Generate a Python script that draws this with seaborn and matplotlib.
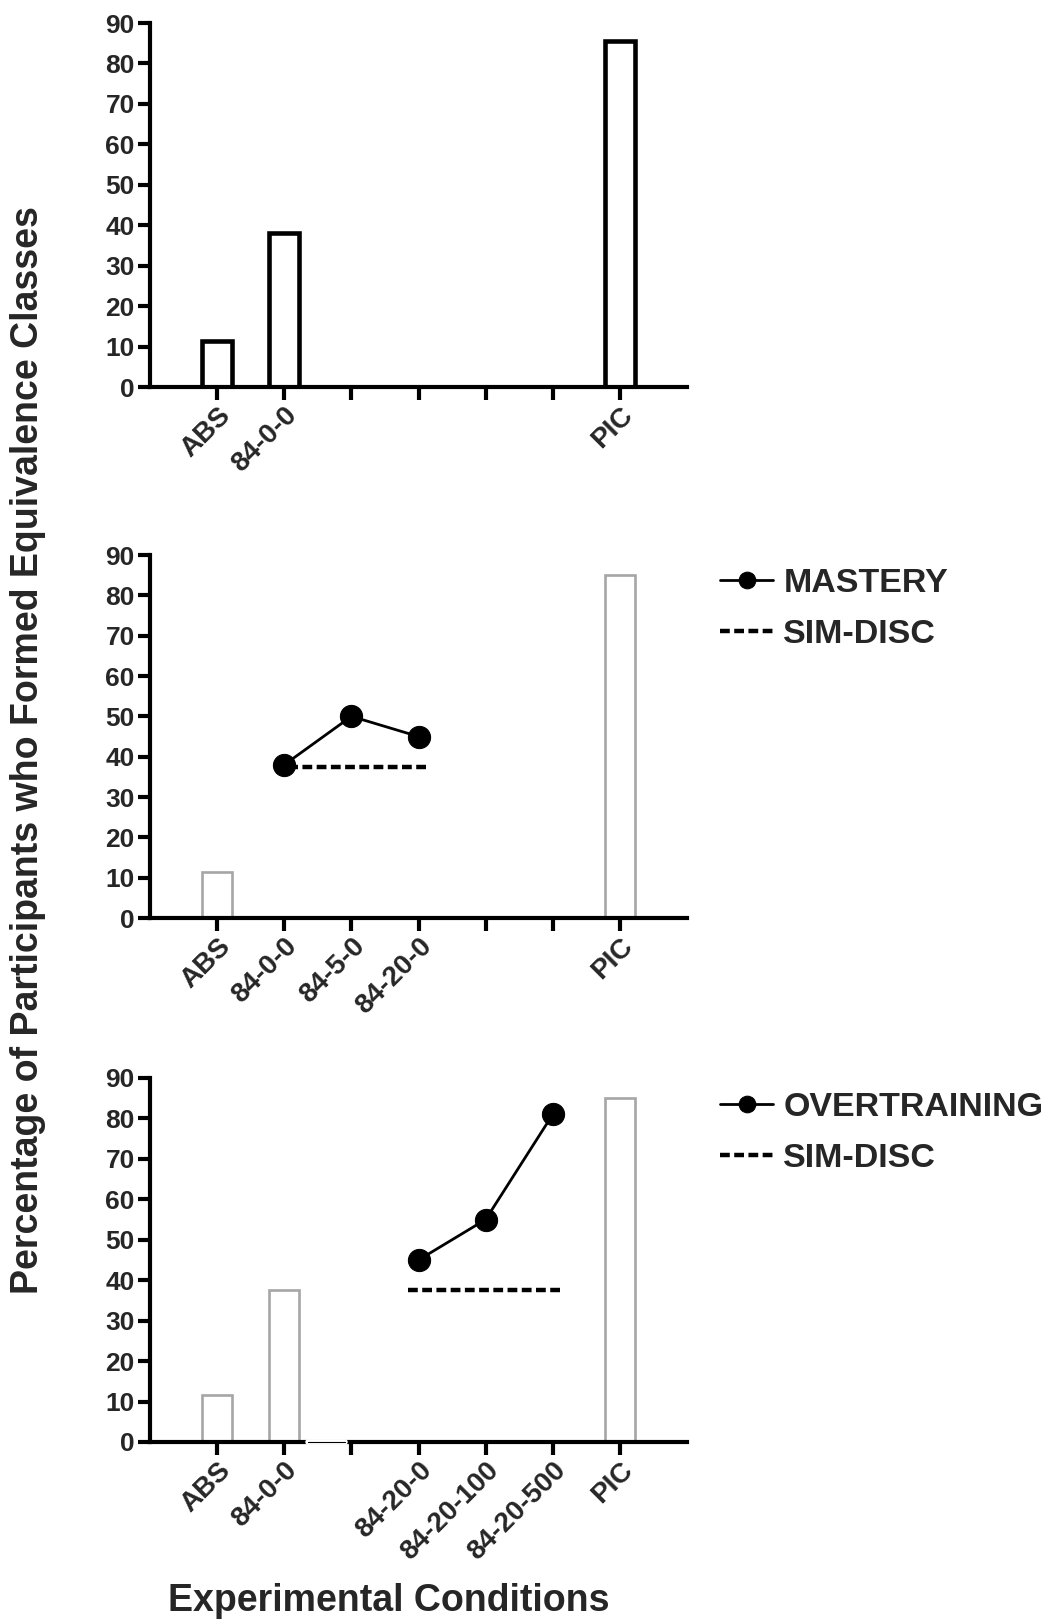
import numpy as np
import pandas as pd
import seaborn as sns
import matplotlib.pyplot as plt

# x slots shared by the three panels (tick positions 0..6)
labels_top = ["ABS", "84-0-0", "", "", "", "", "PIC"]
labels_mid = ["ABS", "84-0-0", "84-5-0", "84-20-0", "", "", "PIC"]
labels_bot = ["ABS", "84-0-0", "", "84-20-0", "84-20-100", "84-20-500", "PIC"]

# bars
top_bar_cond = ["ABS", "84-0-0", "PIC"]
top_bar_val = [11.5, 38, 85.5]
mid_bar_cond = ["ABS", "PIC"]
mid_bar_val = [11.5, 85]
bot_bar_cond = ["ABS", "84-0-0", "PIC"]
bot_bar_val = [11.5, 37.5, 85]

# lines
mastery_cond = ["84-0-0", "84-5-0", "84-20-0"]
mastery_val = [38, 50, 45]
over_cond = ["84-20-0", "84-20-100", "84-20-500"]
over_val = [45, 55, 81]
simdisc_val = 37.5

sns.set_style("ticks")
plt.rcParams['font.family'] = ['Liberation Sans', 'DejaVu Sans']
plt.rcParams['font.weight'] = 'bold'

fig = plt.figure(figsize=(10.44, 16.2), dpi=100)
left, width = 0.1437, 0.5144
ax1 = fig.add_axes([left, 0.7611, width, 0.2247])
ax2 = fig.add_axes([left, 0.4333, width, 0.2241])
ax3 = fig.add_axes([left, 0.1099, width, 0.2247])


def draw_bars(ax, labels, cond, vals, color, lw):
    pos = [labels.index(c) for c in cond]
    df = pd.DataFrame({"pos": pos, "val": vals})
    sns.barplot(data=df, x="pos", y="val", order=list(range(len(labels))),
                fill=False, color=color, linewidth=lw, width=0.45, ax=ax,
                errorbar=None)
    for p in ax.patches:
        p.set_edgecolor(color)
        p.set_zorder(1)


def draw_lines(ax, labels, cond, vals, name):
    pos = [labels.index(c) for c in cond]
    pad = 0.15
    sns.lineplot(x=[pos[0] - pad, pos[-1] + pad], y=[simdisc_val, simdisc_val],
                 color="black", linewidth=3.2, linestyle=(0, (2.2, 1.0)),
                 label="SIM-DISC", ax=ax, zorder=3)
    sns.lineplot(x=pos, y=vals, color="black", linewidth=2, marker="o",
                 markersize=16, markeredgecolor="black", label=name, ax=ax,
                 zorder=4)


def style(ax, labels):
    ax.set_xlim(-1, 7)
    ax.set_ylim(0, 90)
    ax.set_yticks(range(0, 91, 10))
    ax.set_xticks(range(len(labels)))
    ax.set_xticklabels(labels, rotation=45, ha="right", rotation_mode="anchor",
                       fontsize=20, fontweight="bold")
    for t in ax.get_yticklabels():
        t.set_fontsize(19)
        t.set_fontweight("bold")
    ax.set_xlabel("")
    ax.set_ylabel("")
    sns.despine(ax=ax)
    for s in ["left", "bottom"]:
        ax.spines[s].set_linewidth(3)
        ax.spines[s].set_color("black")
        ax.spines[s].set_zorder(2)
    ax.tick_params(axis="both", direction="out", length=9, width=3,
                   color="black", pad=2)


draw_bars(ax1, labels_top, top_bar_cond, top_bar_val, "black", 3.3)
style(ax1, labels_top)

draw_bars(ax2, labels_mid, mid_bar_cond, mid_bar_val, "#a6a6a6", 1.9)
draw_lines(ax2, labels_mid, mastery_cond, mastery_val, "MASTERY")
style(ax2, labels_mid)

draw_bars(ax3, labels_bot, bot_bar_cond, bot_bar_val, "#a6a6a6", 1.9)
draw_lines(ax3, labels_bot, over_cond, over_val, "OVERTRAINING")
style(ax3, labels_bot)
# break in the bottom axis of the last panel
ax3.plot([1.35, 1.9], [0, 0], color="white", lw=4, clip_on=False, zorder=5)
ax3.plot([1.35, 1.9], [0, 0], color="black", lw=0.8, clip_on=False, zorder=6)

for ax, name, y in [(ax2, "MASTERY", 0.6495), (ax3, "OVERTRAINING", 0.3262)]:
    h, l = ax.get_legend_handles_labels()
    d = dict(zip(l, h))
    ax.legend([d[name], d["SIM-DISC"]], [name, "SIM-DISC"], loc="upper left",
              bbox_to_anchor=(0.69, y), bbox_transform=fig.transFigure,
              frameon=False, prop={"weight": "bold", "size": 24.5},
              handlelength=1.55, handletextpad=0.3, labelspacing=0.6,
              markerscale=0.75, borderpad=0, borderaxespad=0)

fig.text(0.027, 0.537, "Percentage of Participants who Formed Equivalence Classes",
         rotation=90, ha="center", va="center", fontsize=27, fontweight="bold")
fig.text(0.372, 0.012, "Experimental Conditions", ha="center", va="center",
         fontsize=27, fontweight="bold")

fig.savefig("out.png", dpi=100)
